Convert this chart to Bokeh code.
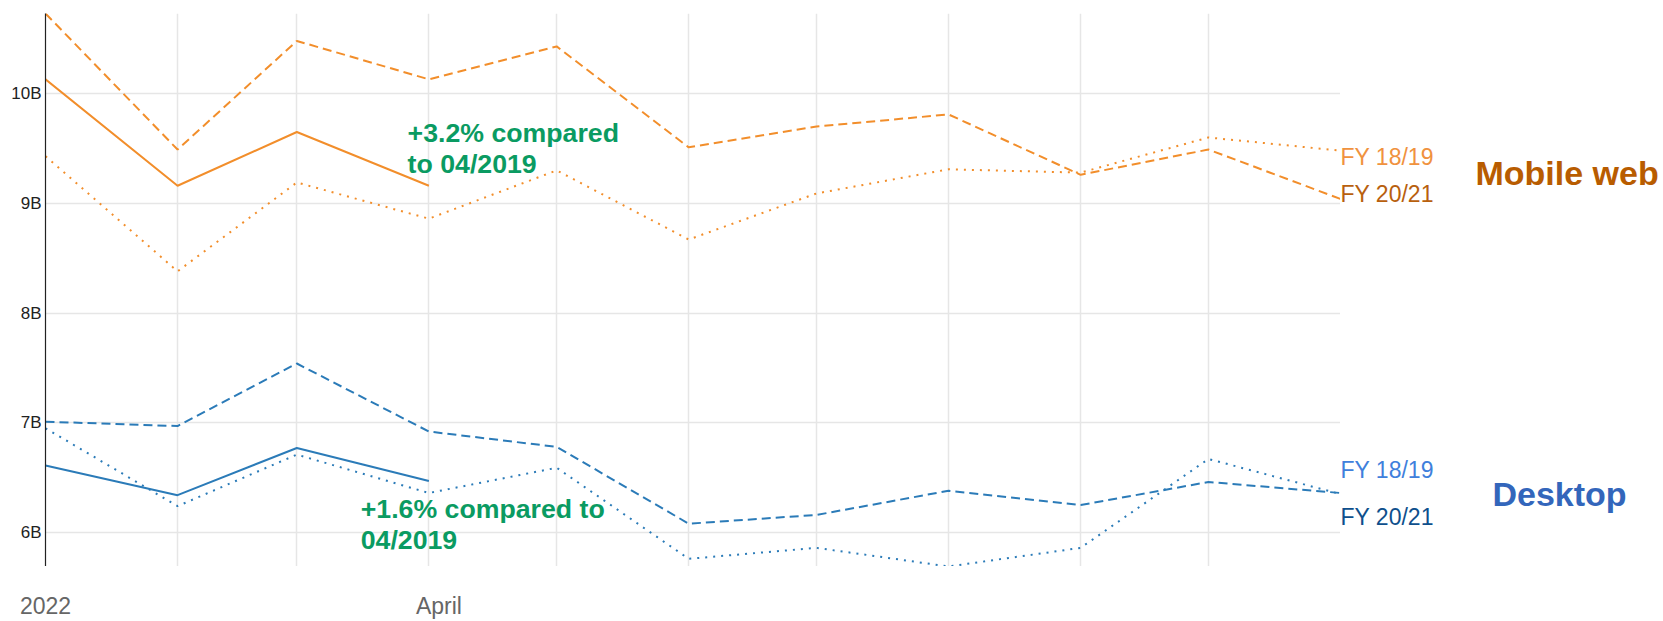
import pandas as pd
from bokeh.plotting import figure
from bokeh.layouts import row, column
from bokeh.models import Range1d, FixedTicker, Label
from bokeh.core.properties import value
from bokeh.embed import file_html
from bokeh.resources import INLINE

# ---------------- data ----------------
months = ["2022-01-01", "2022-02-01", "2022-03-01", "2022-04-01", "2022-05-01",
          "2022-06-01", "2022-07-01", "2022-08-01", "2022-09-01", "2022-10-01",
          "2022-11-01"]
mobile_fy2021 = [10.73, 9.49, 10.48, 10.13, 10.43, 9.51, 9.70, 9.81, 9.26, 9.49, 9.04]
mobile_fy1819 = [9.43, 8.38, 9.19, 8.86, 9.30, 8.67, 9.09, 9.31, 9.28, 9.60, 9.48]
mobile_2022 = [10.13, 9.16, 9.65, 9.16]
desktop_fy2021 = [7.01, 6.97, 7.54, 6.92, 6.78, 6.08, 6.16, 6.38, 6.25, 6.46, 6.36]
desktop_fy1819 = [6.95, 6.24, 6.71, 6.36, 6.59, 5.76, 5.86, 5.69, 5.86, 6.67, 6.35]
desktop_2022 = [6.61, 6.34, 6.77, 6.47]
y_ticks = [6, 7, 8, 9, 10]
y_tick_labels = ["6B", "7B", "8B", "9B", "10B"]
x_tick_labels = {"2022-01-01": "2022", "2022-04-01": "April"}
mobile_note = ["+3.2% compared", "to 04/2019"]
desktop_note = ["+1.6% compared to", "04/2019"]
series_labels = ["FY 18/19", "FY 20/21"]
group_labels = ["Mobile web", "Desktop"]

x = pd.to_datetime(months)
x_ms = [float(v) for v in (x.astype("int64") // 10**6)]
tick_ms = [float(pd.Timestamp(k).value // 10**6) for k in x_tick_labels]

FONT = "Liberation Sans"
ORANGE = "#f28e2b"
BLUE = "#2b7bb8"
GREEN = "#0a9b62"
LEFT, TOP, FRAME_W, FRAME_H = 45, 13, 1295, 553
MAIN_H = TOP + FRAME_H
BOTTOM_H = 621 - MAIN_H
RW = 320

p = figure(width=LEFT + FRAME_W, height=MAIN_H, x_axis_type="datetime",
           x_axis_location=None,
           output_backend="svg", toolbar_location=None,
           x_range=Range1d(x_ms[0], x_ms[-1]), y_range=Range1d(5.69, 10.73),
           min_border_left=LEFT, min_border_right=0,
           min_border_top=TOP, min_border_bottom=0)
p.outline_line_color = None
p.background_fill_color = "white"
p.border_fill_color = "white"

p.xgrid.ticker = FixedTicker(ticks=x_ms)
p.xgrid.grid_line_color = "#e6e6e6"
p.xgrid.grid_line_width = 1.5

p.yaxis.ticker = FixedTicker(ticks=y_ticks)
p.yaxis.major_label_overrides = {t: l for t, l in zip(y_ticks, y_tick_labels)}
p.yaxis.major_tick_line_color = None
p.yaxis.minor_tick_line_color = None
p.yaxis.major_tick_out = 0
p.yaxis.minor_tick_out = 0
p.yaxis.axis_line_color = "#222222"
p.yaxis.axis_line_width = 1.2
p.yaxis.major_label_text_font = FONT
p.yaxis.major_label_text_font_size = "17px"
p.yaxis.major_label_text_color = "#222222"
p.yaxis.major_label_standoff = 4
p.ygrid.grid_line_color = "#e6e6e6"
p.ygrid.grid_line_width = 1.5

# lines
p.line(x_ms, mobile_fy2021, line_color=ORANGE, line_width=2, line_dash="9 5")
p.line(x_ms, mobile_fy1819, line_color=ORANGE, line_width=2, line_dash="2 6")
p.line(x_ms[:len(mobile_2022)], mobile_2022, line_color=ORANGE, line_width=2)
p.line(x_ms, desktop_fy2021, line_color=BLUE, line_width=2, line_dash="9 5")
p.line(x_ms, desktop_fy1819, line_color=BLUE, line_width=2, line_dash="2 6")
p.line(x_ms[:len(desktop_2022)], desktop_2022, line_color=BLUE, line_width=2)

DAY = 86400000.0

def note(xv, yv, text):
    p.add_layout(Label(x=xv, y=yv, text=text, text_color=GREEN,
                       text_font=FONT, text_font_size="26.7px",
                       text_font_style="bold",
                       text_align="left", text_baseline="middle"))

note(x_ms[2] + 26 * DAY, 9.645, mobile_note[0])
note(x_ms[2] + 26 * DAY, 9.362, mobile_note[1])
note(x_ms[2] + 15 * DAY, 6.21, desktop_note[0])
note(x_ms[2] + 15 * DAY, 5.927, desktop_note[1])

# right-hand label panel sharing the y range
r = figure(width=RW, height=MAIN_H, output_backend="svg", toolbar_location=None,
           x_range=Range1d(0, RW), y_range=p.y_range,
           x_axis_location=None, y_axis_location=None,
           min_border_left=0, min_border_right=0,
           min_border_top=TOP, min_border_bottom=0)
r.outline_line_color = None
r.xgrid.visible = False
r.ygrid.visible = False
r.background_fill_color = "white"
r.border_fill_color = "white"

r.text(x=[0, 0, 0, 0], y=[9.426, 9.089, 6.574, 6.137],
       text=series_labels * 2,
       text_color=["#f0923e", "#b8600e", "#3f80dc", "#0e4f8c"],
       text_font=value(FONT), text_font_size="23px",
       text_align="left", text_baseline="middle")
r.text(x=[135, 152], y=[9.28, 6.355], text=group_labels,
       text_color=["#b85c00", "#3366bb"],
       text_font=value(FONT), text_font_size="34px", text_font_style="bold",
       text_align="left", text_baseline="middle")

# bottom strip with the two time labels, same time scale as the chart
ms_per_px = (x_ms[-1] - x_ms[0]) / FRAME_W
b = figure(width=LEFT + FRAME_W, height=BOTTOM_H, output_backend="svg",
           toolbar_location=None,
           x_range=Range1d(x_ms[0] - LEFT * ms_per_px, x_ms[-1]),
           y_range=Range1d(0, BOTTOM_H),
           x_axis_location=None, y_axis_location=None,
           min_border_left=0, min_border_right=0,
           min_border_top=0, min_border_bottom=0)
b.outline_line_color = None
b.xgrid.visible = False
b.ygrid.visible = False
b.background_fill_color = "white"
b.border_fill_color = "white"
b.text(x=tick_ms, y=[16, 16], text=list(x_tick_labels.values()),
       x_offset=[0, 10],
       text_color="#666666", text_font=value(FONT), text_font_size="23px",
       text_align="center", text_baseline="middle")

layout = column(row(p, r, spacing=0), b, spacing=0)
open("out.html", "w").write(file_html(layout, INLINE))
